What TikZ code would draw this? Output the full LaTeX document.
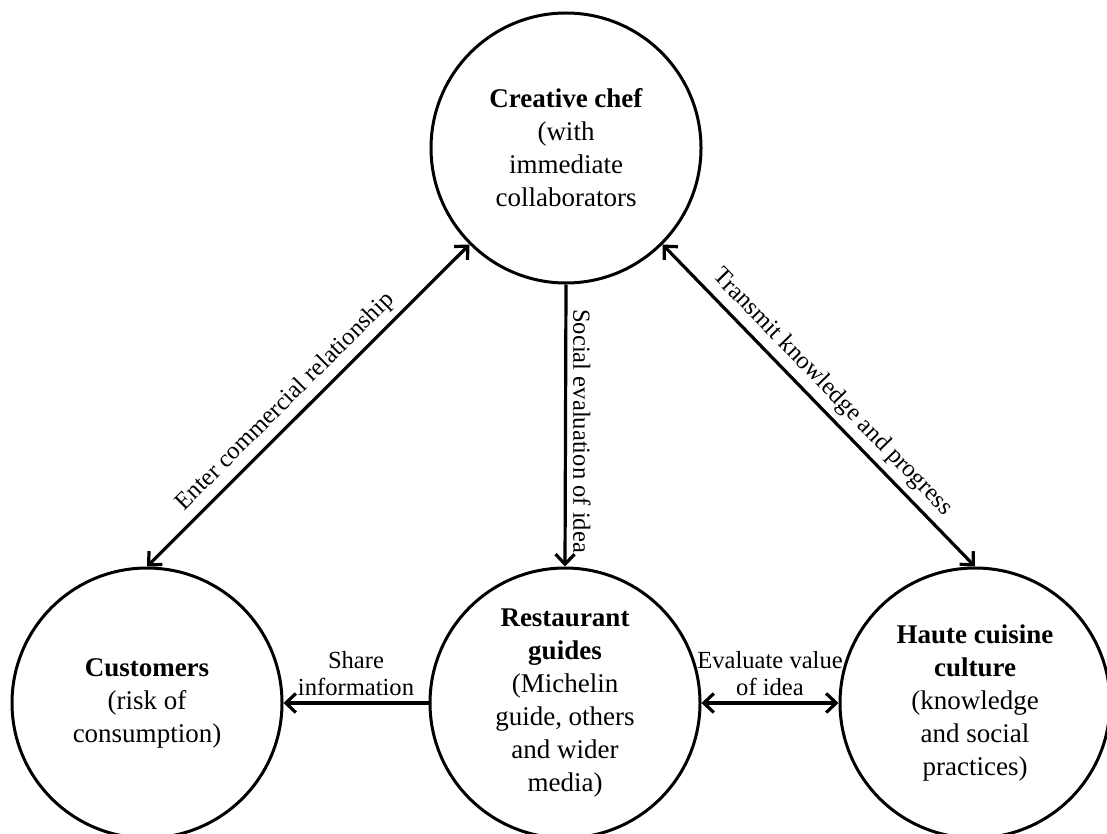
\documentclass[tikz,border=0pt]{standalone}
\usepackage{fontspec}
\setmainfont{Liberation Serif}
\usetikzlibrary{arrows.meta}
\begin{document}
\begin{tikzpicture}[x=0.5pt,y=-0.5pt,
  circ/.style={circle,draw,line width=1.5pt,minimum size=135pt,inner sep=0pt,align=center,font=\fontsize{13.5}{16.5}\selectfont},
  tipb/.tip={Straight Barb[length=5pt,width=9.5pt]},
  conn/.style={line width=1.6pt,-tipb},
  dbl/.style={line width=1.6pt,tipb-tipb},
  lab/.style={font=\fontsize{12.3}{13.5}\selectfont,align=center,inner sep=3pt}]
\useasboundingbox (0,0) rectangle (1107,834);
\node[circ] (chef) at (566,148) {\textbf{Creative chef}\\(with\\immediate\\collaborators};
\node[circ] (cust) at (147,703) {\textbf{Customers}\\(risk of\\consumption)};
\node[circ] (guide) at (565,703) {\textbf{Restaurant}\\\textbf{guides}\\(Michelin\\guide, others\\and wider\\media)};
\node[circ] (haute) at (975,703) {\textbf{Haute cuisine}\\\textbf{culture}\\(knowledge\\and social\\practices)};
\draw[dbl] (chef.225) -- node[lab,sloped,above,pos=0.53] (l1) {Enter commercial relationship} (cust.north);
\draw[dbl] (chef.-45) -- node[lab,sloped,above,pos=0.5] (l2) {Transmit knowledge and progress} (haute.north);
\draw[conn] (chef.south) -- node[lab,rotate=-90,anchor=south,pos=0.52] (l3) {Social evaluation of idea} (guide.north);
\draw[conn] (guide.west) -- node[lab,above] (l4) {Share\\information} (cust.east);
\draw[dbl] (guide.east) -- node[lab,above] (l5) {Evaluate value\\of idea} (haute.west);
\end{tikzpicture}
\end{document}
